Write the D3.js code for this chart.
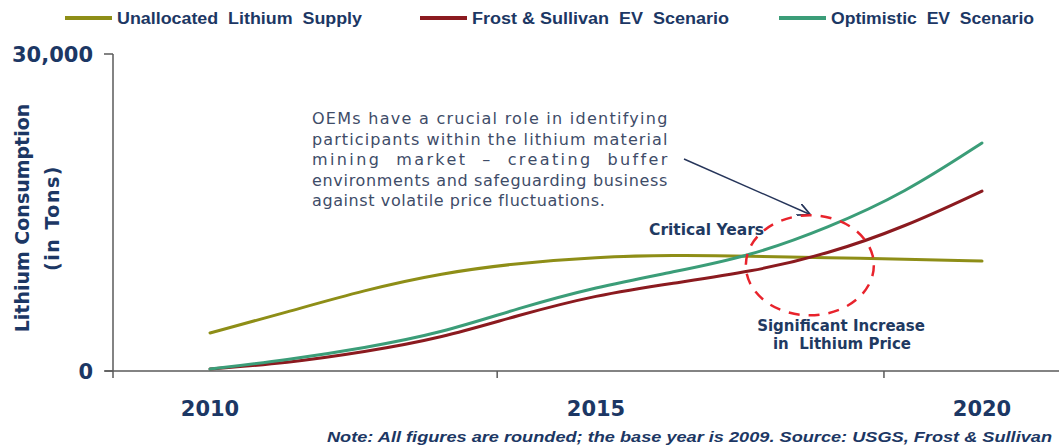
<!DOCTYPE html>
<html>
<head>
<meta charset="utf-8">
<script src="https://cdn.jsdelivr.net/npm/d3@7"></script>
<style>
  html, body { margin: 0; padding: 0; background: #fff; }
  svg { display: block; }
</style>
</head>
<body>
<div id="chart"></div>
<script>
// Years on the x axis (lines run 2010..2020)
const years = [2010, 2011, 2012, 2013, 2014, 2015, 2016, 2017, 2018, 2019, 2020];

// Lithium consumption, tons
const unallocatedSupply = [3600, 5580, 7660, 9270, 10220, 10790, 10980, 10880, 10700, 10600, 10400];
const frostScenario = [190, 760, 1800, 3120, 5300, 7190, 8330, 9370, 11070, 13630, 17030];
const optimisticScenario = [190, 1040, 2180, 3600, 5960, 7950, 9370, 10880, 13530, 16850, 21580];

const seriesNames = ['Unallocated  Lithium  Supply', 'Frost & Sullivan  EV  Scenario', 'Optimistic  EV  Scenario'];
const seriesColors = ['#8e8e17', '#8b1a1f', '#3b9d78'];

const yTickValues = [0, 30000];
const xLabelYears = [2010, 2015, 2020];
const xTickMarkYears = [2013.72, 2018.73];

const noteText = 'Note: All figures are rounded; the base year is 2009. Source: USGS, Frost & Sullivan';
const calloutLines = [
  'OEMs have a crucial role in identifying',
  'participants within the lithium material',
  'mining  market  \u2013  creating  buffer',
  'environments and safeguarding business',
  'against volatile price fluctuations.',
];

const width = 1059;
const height = 446;
const navy = '#1c3764';

const svg = d3.select('#chart')
  .append('svg')
  .attr('width', width)
  .attr('height', height);

const x = d3.scaleLinear().domain([2010, 2020]).range([210, 982]);
const y = d3.scaleLinear().domain([0, 30000]).range([371, 54]);

// Axes
const axisColor = '#5a5a5a';
svg.append('line')
  .attr('x1', 105).attr('x2', width)
  .attr('y1', y(0)).attr('y2', y(0))
  .attr('stroke', axisColor).attr('stroke-width', 1.5);
svg.append('line')
  .attr('x1', 113).attr('x2', 113)
  .attr('y1', y(30000)).attr('y2', y(0) + 7)
  .attr('stroke', axisColor).attr('stroke-width', 1.5);

svg.selectAll('.ytick')
  .data(yTickValues)
  .enter()
  .append('line')
  .attr('x1', 104).attr('x2', 113)
  .attr('y1', (d) => y(d)).attr('y2', (d) => y(d))
  .attr('stroke', axisColor).attr('stroke-width', 1.5);

svg.selectAll('.ylabel')
  .data(yTickValues)
  .enter()
  .append('text')
  .attr('x', 93)
  .attr('y', (d) => y(d))
  .attr('dy', '0.36em')
  .attr('text-anchor', 'end')
  .style('font-family', 'DejaVu Sans, Verdana, sans-serif')
  .style('font-weight', 'bold')
  .style('font-size', '21px')
  .style('fill', navy)
  .text((d) => d3.format(',')(d));

svg.selectAll('.xtick')
  .data(xTickMarkYears)
  .enter()
  .append('line')
  .attr('x1', (d) => x(d)).attr('x2', (d) => x(d))
  .attr('y1', y(0)).attr('y2', y(0) + 7)
  .attr('stroke', axisColor).attr('stroke-width', 1.5);

svg.selectAll('.xlabel')
  .data(xLabelYears)
  .enter()
  .append('text')
  .attr('x', (d) => x(d))
  .attr('y', 416)
  .attr('text-anchor', 'middle')
  .style('font-family', 'DejaVu Sans, Verdana, sans-serif')
  .style('font-weight', 'bold')
  .style('font-size', '21px')
  .style('fill', navy)
  .text((d) => d);

// Y axis title
const yTitle = svg.append('g')
  .attr('transform', 'translate(0, 218) rotate(-90)')
  .style('font-family', 'DejaVu Sans, Verdana, sans-serif')
  .style('font-weight', 'bold')
  .style('font-size', '19px')
  .style('fill', navy)
  .attr('text-anchor', 'middle');
yTitle.append('text').attr('x', 0).attr('y', 29).text('Lithium Consumption');
yTitle.append('text').attr('x', 0).attr('y', 59)
  .style('letter-spacing', '1.5px')
  .text('(in Tons)');

// Lines
const allSeries = [unallocatedSupply, frostScenario, optimisticScenario];
const line = d3.line()
  .x((d, i) => x(years[i]))
  .y((d) => y(d))
  .curve(d3.curveBasis);

svg.selectAll('.series')
  .data(allSeries)
  .enter()
  .append('path')
  .attr('d', (d) => line(d))
  .attr('fill', 'none')
  .attr('stroke', (d, i) => seriesColors[i])
  .attr('stroke-width', 3)
  .attr('stroke-linecap', 'round');

// Legend
const legendX = [65, 420, 779];
const legendTextWidth = [245, 257, 203];
const legend = svg.selectAll('.legend')
  .data(seriesNames)
  .enter()
  .append('g')
  .attr('transform', (d, i) => `translate(${legendX[i]}, 18)`);
legend.append('line')
  .attr('x1', 0).attr('x2', 47)
  .attr('stroke', (d, i) => seriesColors[i])
  .attr('stroke-width', 4);
legend.append('text')
  .attr('x', 52)
  .attr('dy', '0.36em')
  .attr('textLength', (d, i) => legendTextWidth[i])
  .attr('lengthAdjust', 'spacingAndGlyphs')
  .style('font-family', 'Liberation Sans, Arial, sans-serif')
  .style('font-weight', 'bold')
  .style('font-size', '16px')
  .style('white-space', 'pre')
  .style('fill', navy)
  .text((d) => d);

// Callout text (justified)
const callout = svg.append('g')
  .style('font-family', 'DejaVu Sans, Verdana, sans-serif')
  .style('font-size', '16px')
  .style('letter-spacing', '0.6px')
  .style('fill', '#3e4c68');
callout.selectAll('text')
  .data(calloutLines)
  .enter()
  .append('text')
  .attr('x', 312)
  .attr('y', (d, i) => 124 + i * 20.5)
  .attr('textLength', (d, i) => (i < calloutLines.length - 1 ? 356 : null))
  .attr('lengthAdjust', 'spacing')
  .style('white-space', 'pre')
  .text((d) => d);

// Arrow from callout to circle
svg.append('defs').append('marker')
  .attr('id', 'arrowhead')
  .attr('viewBox', '0 0 10 10')
  .attr('refX', 9).attr('refY', 5)
  .attr('markerWidth', 9).attr('markerHeight', 9)
  .attr('orient', 'auto')
  .append('path')
  .attr('d', 'M0,0 L10,5 L0,10')
  .attr('fill', 'none')
  .attr('stroke', '#26355a')
  .attr('stroke-width', 1.4);
svg.append('line')
  .attr('x1', 684).attr('y1', 159)
  .attr('x2', 809).attr('y2', 214)
  .attr('stroke', '#26355a')
  .attr('stroke-width', 1.4)
  .attr('marker-end', 'url(#arrowhead)');

// Dashed circle around the critical years
svg.append('ellipse')
  .attr('cx', x(2017.77))
  .attr('cy', y(10000))
  .attr('rx', 64)
  .attr('ry', 50)
  .attr('fill', 'none')
  .attr('stroke', '#e8232c')
  .attr('stroke-width', 2.5)
  .attr('stroke-dasharray', '11 9');

const labelStyle = (sel) => sel
  .style('font-family', 'DejaVu Sans, Verdana, sans-serif')
  .style('font-weight', 'bold')
  .style('font-size', '15px')
  .style('fill', '#1f3a62');

svg.append('text')
  .attr('x', 649).attr('y', 235)
  .call(labelStyle)
  .style('font-size', '15.5px')
  .text('Critical Years');
svg.append('text')
  .attr('x', 841).attr('y', 331)
  .attr('text-anchor', 'middle')
  .call(labelStyle)
  .text('Significant Increase');
svg.append('text')
  .attr('x', 842).attr('y', 349)
  .attr('text-anchor', 'middle')
  .style('white-space', 'pre')
  .call(labelStyle)
  .text('in  Lithium Price');

// Footnote
svg.append('text')
  .attr('x', 1052).attr('y', 442)
  .attr('text-anchor', 'end')
  .attr('textLength', 725)
  .attr('lengthAdjust', 'spacingAndGlyphs')
  .style('font-family', 'Liberation Sans, Arial, sans-serif')
  .style('font-weight', 'bold')
  .style('font-style', 'italic')
  .style('font-size', '15px')
  .style('fill', navy)
  .text(noteText);
</script>
</body>
</html>
